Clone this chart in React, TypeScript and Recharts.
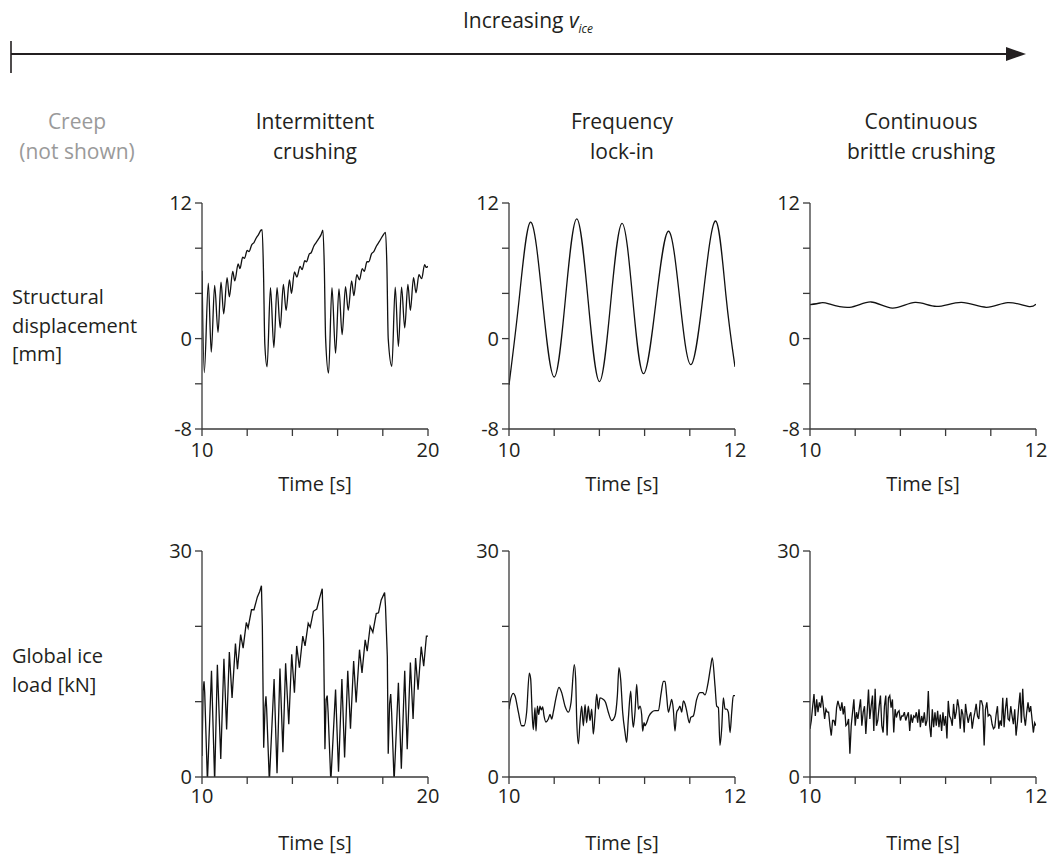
import React from "react";
import { LineChart, Line, XAxis, YAxis } from "recharts";

const FONT = '"Open Sans", "Noto Sans", sans-serif';
const INK = "#231f20";
const AXIS = "#3a3a3a";

// text
const columnTitles = [
  ["Intermittent", "crushing"],
  ["Frequency", "lock-in"],
  ["Continuous", "brittle crushing"],
];
const creepTitle = ["Creep", "(not shown)"];
const rowLabels = [
  ["Structural", "displacement", "[mm]"],
  ["Global ice", "load [kN]"],
];
const timeLabel = "Time [s]";

// axes
const longTicks = [10, 12, 14, 16, 18, 20];
const longLabels = [10, 20];
const shortTicks = [10, 10.4, 10.8, 11.2, 11.6, 12];
const shortLabels = [10, 12];
const dispTicks = [-8, -4, 0, 4, 8, 12];
const dispLabels = [-8, 0, 12];
const loadTicks = [0, 10, 20, 30];
const loadLabels = [0, 30];

// intermittent crushing, displacement [mm]
const icDispT = [
  10.0, 10.1, 10.28, 10.41, 10.56, 10.71, 10.84, 10.96, 11.11, 11.21,
  11.36, 11.45, 11.6, 11.68, 11.8, 11.88, 12.0, 12.08, 12.2, 12.3,
  12.4, 12.5, 12.61, 12.66, 12.72, 12.78, 12.88,
  13.03, 13.18, 13.32, 13.46, 13.6, 13.72, 13.87, 13.96, 14.09, 14.2,
  14.34, 14.43, 14.55, 14.62, 14.75, 14.83, 14.95, 15.05, 15.15, 15.27,
  15.35, 15.41, 15.47, 15.6,
  15.75, 15.91, 16.06, 16.2, 16.35, 16.47, 16.62, 16.72, 16.85, 16.97,
  17.09, 17.18, 17.3, 17.38, 17.5, 17.6, 17.72, 17.85, 17.98, 18.12,
  18.18, 18.24, 18.4,
  18.55, 18.69, 18.83, 18.97, 19.11, 19.22, 19.36, 19.47, 19.6, 19.72,
  19.85, 19.92, 20.0,
];
const icDispV = [
  6.0, -3.0, 4.9, -1.2, 4.7, 0.55, 5.0, 2.2, 5.4, 3.7,
  5.95, 5.1, 6.6, 6.2, 7.2, 7.1, 7.8, 7.7, 8.3, 8.5,
  8.9, 9.2, 9.6, 9.64, 6.0, -0.5, -2.5,
  4.5, -0.8, 4.5, 0.95, 4.8, 2.5, 5.2, 4.0, 5.9, 5.45,
  6.4, 6.1, 6.9, 6.8, 7.5, 7.6, 8.2, 8.5, 8.8, 9.2,
  9.6, 6.5, 0.0, -3.05,
  4.5, -1.3, 4.4, 0.35, 4.6, 2.5, 5.1, 3.8, 5.65, 5.2,
  6.2, 5.95, 6.8, 6.8, 7.5, 7.7, 8.2, 8.6, 9.05, 9.4,
  6.5, 0.0, -2.45,
  4.55, -0.7, 4.55, 0.95, 4.8, 2.5, 5.4, 4.05, 5.65, 5.3,
  6.55, 6.3, 6.4,
];

// intermittent crushing, ice load [kN]
const icLoadT = [
  10.0, 10.05, 10.09, 10.12, 10.24, 10.42, 10.56, 10.68, 10.83, 10.97,
  11.09, 11.21, 11.33, 11.48, 11.57, 11.71, 11.82, 11.96, 12.04, 12.19,
  12.3, 12.45, 12.55, 12.63, 12.67, 12.73, 12.79, 12.83, 12.86, 12.98,
  13.19, 13.32, 13.45, 13.58, 13.7, 13.84, 13.97, 14.09, 14.19, 14.31,
  14.46, 14.56, 14.7, 14.79, 14.93, 15.08, 15.2, 15.32, 15.38, 15.44,
  15.49, 15.54, 15.58, 15.7,
  15.91, 16.04, 16.19, 16.31, 16.45, 16.57, 16.71, 16.82, 16.97, 17.08,
  17.22, 17.31, 17.44, 17.56, 17.71, 17.81, 17.93, 18.08, 18.12, 18.2,
  18.24, 18.3, 18.35, 18.39, 18.5,
  18.69, 18.82, 18.97, 19.08, 19.22, 19.34, 19.45, 19.56, 19.7, 19.81,
  19.93, 20.0,
];
const icLoadV = [
  2.8, 11.5, 12.7, 11.2, -0.6, 14.1, -0.6, 14.9, 2.4, 15.7,
  6.3, 16.6, 10.5, 17.7, 14.3, 18.9, 17.1, 20.5, 19.8, 22.2,
  22.2, 23.9, 24.6, 25.4, 20.0, 3.9, 9.4, 10.7, 9.1, -0.6,
  13.0, 0.5, 14.4, 3.3, 15.1, 7.0, 16.3, 11.2, 17.4, 14.5,
  18.7, 17.4, 20.4, 19.9, 22.0, 22.3, 23.7, 25.0, 18.2, 3.7,
  10.3, 10.8, 8.6, -0.6,
  11.6, 0.7, 13.0, 2.6, 14.1, 6.4, 15.4, 9.9, 16.9, 13.8,
  18.2, 16.7, 20.0, 19.2, 21.7, 21.8, 23.5, 24.5, 22.6, 16.0,
  3.1, 9.7, 11.0, 8.6, -0.6,
  12.5, 1.1, 14.1, 3.7, 15.2, 7.7, 15.8, 11.6, 17.3, 14.7,
  18.7, 18.7,
];

// frequency lock-in, displacement [mm]
const liDispT = [
  10.0, 10.09, 10.19, 10.295, 10.4, 10.5, 10.6, 10.7, 10.8, 10.9,
  11.0, 11.095, 11.19, 11.3, 11.41, 11.51, 11.61, 11.72, 11.83, 11.92,
  12.0,
];
const liDispV = [
  -4.1, 3.5, 10.3, 3.5, -3.4, 3.6, 10.6, 3.4, -3.8, 3.2,
  10.2, 3.5, -3.1, 3.2, 9.5, 3.6, -2.3, 4.0, 10.4, 3.8,
  -2.5,
];

// frequency lock-in, ice load [kN]
const liLoadT = [
  10.0, 10.009, 10.038, 10.053, 10.083, 10.112, 10.133, 10.156, 10.18, 10.192,
  10.206, 10.215, 10.23, 10.239, 10.251, 10.263, 10.274, 10.286, 10.298, 10.31,
  10.327, 10.348, 10.363, 10.378, 10.392, 10.416, 10.442, 10.466, 10.496, 10.525,
  10.549, 10.578, 10.59, 10.599, 10.614, 10.628, 10.643, 10.658, 10.673, 10.687,
  10.702, 10.717, 10.732, 10.746, 10.761, 10.776, 10.791, 10.805, 10.835, 10.855,
  10.879, 10.909, 10.938, 10.959, 10.973, 10.988, 11.006, 11.027, 11.041, 11.056,
  11.077, 11.088, 11.1, 11.115, 11.13, 11.145, 11.159, 11.174, 11.183, 11.195,
  11.204, 11.218, 11.239, 11.263, 11.292, 11.322, 11.345, 11.366, 11.381, 11.395,
  11.41, 11.425, 11.44, 11.454, 11.469, 11.484, 11.499, 11.513, 11.528, 11.543,
  11.558, 11.572, 11.596, 11.608, 11.631, 11.661, 11.69, 11.714, 11.735, 11.764,
  11.785, 11.799, 11.823, 11.838, 11.853, 11.867, 11.882, 11.897, 11.912, 11.926,
  11.941, 11.956, 11.971, 11.985, 12.0,
];
const liLoadV = [
  9.0, 9.9, 11.1, 10.8, 8.6, 6.8, 6.8, 8.6, 13.8, 13.0,
  8.1, 6.3, 9.2, 6.1, 9.4, 8.3, 9.4, 8.9, 9.3, 8.1,
  7.3, 7.7, 8.3, 7.7, 8.6, 10.5, 11.9, 11.2, 9.4, 8.6,
  9.9, 14.9, 13.0, 7.7, 4.4, 7.2, 9.4, 6.8, 9.6, 7.2,
  9.4, 7.5, 9.0, 5.7, 8.1, 11.0, 9.0, 10.5, 10.3, 9.9,
  8.6, 7.5, 8.1, 10.8, 14.5, 13.0, 8.6, 5.9, 4.6, 7.7,
  11.4, 8.6, 6.6, 8.6, 12.3, 9.0, 9.4, 8.3, 6.1, 7.2,
  6.8, 7.2, 8.1, 8.6, 8.8, 8.8, 11.0, 12.7, 12.7, 10.8,
  8.6, 9.4, 10.3, 9.0, 6.1, 8.6, 9.0, 9.4, 8.6, 10.1,
  9.7, 8.8, 7.2, 7.9, 8.1, 10.3, 11.2, 11.2, 10.9, 12.7,
  14.7, 15.8, 12.1, 9.4, 9.2, 4.2, 6.4, 10.5, 9.0, 9.0,
  8.6, 5.9, 8.6, 10.8, 10.8,
];

// continuous brittle crushing, displacement [mm]
const bcDispT = [10.0, 10.09, 10.16, 10.35, 10.54, 10.73, 10.93, 11.12, 11.34, 11.56, 11.75, 11.93, 12.0];
const bcDispV = [3.0, 3.15, 3.1, 2.77, 3.24, 2.7, 3.2, 2.85, 3.2, 2.77, 3.18, 2.85, 3.05];

// continuous brittle crushing, ice load [kN], evenly sampled 10..12 s
const bcLoadV = [
  6.4, 7.5, 9.4, 11.0, 8.1, 10.3, 8.6, 9.9, 9.2, 10.8,
  9.4, 7.7, 9.0, 8.6, 8.6, 6.8, 5.5, 7.5, 7.5, 6.8,
  9.2, 10.1, 9.4, 8.8, 9.9, 8.3, 9.4, 6.8, 7.0, 7.7,
  3.1, 6.8, 8.6, 10.3, 6.8, 8.6, 7.7, 9.0, 10.3, 6.8,
  8.6, 9.4, 5.7, 8.6, 11.6, 7.7, 9.4, 10.8, 6.1, 11.7,
  6.8, 7.5, 9.4, 10.8, 6.8, 5.9, 9.4, 10.8, 5.5, 10.5,
  10.8, 9.2, 10.3, 5.9, 9.0, 7.9, 8.6, 8.8, 7.5, 8.1,
  8.1, 8.6, 7.5, 8.1, 8.6, 6.1, 8.3, 7.2, 8.1, 7.9,
  8.6, 7.2, 9.0, 6.6, 8.1, 7.2, 8.6, 6.8, 7.5, 11.4,
  6.8, 5.3, 9.0, 6.6, 8.6, 6.8, 8.8, 6.6, 8.3, 6.1,
  8.6, 6.8, 8.1, 5.1, 10.1, 8.1, 7.7, 6.8, 9.7, 7.7,
  8.6, 10.3, 9.2, 6.4, 9.0, 8.3, 5.9, 9.7, 8.3, 7.2,
  8.1, 8.6, 6.4, 7.7, 8.6, 9.7, 8.1, 7.7, 10.1, 10.1,
  9.4, 4.2, 9.0, 9.9, 8.1, 8.3, 8.1, 7.0, 6.4, 6.6,
  8.3, 9.4, 6.4, 7.5, 6.8, 10.5, 6.6, 9.0, 10.5, 7.7,
  7.5, 9.4, 8.1, 7.0, 9.0, 5.5, 7.2, 9.4, 11.2, 7.2,
  11.7, 8.1, 6.8, 8.6, 9.9, 8.6, 9.4, 7.7, 5.9, 7.2,
  6.8,
];

type Curve = "monotone" | "linear" | "natural";

const zip = (ts: number[], vs: number[]) => ts.map((t, i) => ({ t, v: vs[i] }));
const bcLoadT = bcLoadV.map((_, i) => 10 + (i * 2) / (bcLoadV.length - 1));

const PLOT = 226;
const TOP_PAD = 22;
const colLeft = [202, 509, 810];
const rowTop = [203, 551];

interface PanelProps {
  left: number;
  top: number;
  data: { t: number; v: number }[];
  xDomain: [number, number];
  xTicks: number[];
  xLabels: number[];
  yDomain: [number, number];
  yTicks: number[];
  yLabels: number[];
  curve: Curve;
  xGap: number;
}

function Panel({ left, top, data, xDomain, xTicks, xLabels, yDomain, yTicks, yLabels, curve, xGap }: PanelProps) {
  const tickStyle = { fill: INK, fontSize: 20, fontFamily: FONT };
  return (
    <div style={{ position: "absolute", left: left - 60, top: top - TOP_PAD }}>
      <LineChart
        width={60 + PLOT + 22}
        height={TOP_PAD + PLOT + 40}
        data={data}
        margin={{ top: TOP_PAD, right: 22, bottom: 0, left: 0 }}
      >
        <XAxis
          dataKey="t"
          type="number"
          domain={xDomain}
          ticks={xTicks}
          interval={0}
          allowDataOverflow
          height={40}
          tickSize={7}
          tickMargin={xGap}
          stroke={AXIS}
          strokeWidth={1.3}
          tick={tickStyle}
          tickFormatter={(v: number) => (xLabels.includes(v) ? String(v) : "")}
        />
        <YAxis
          type="number"
          domain={yDomain}
          ticks={yTicks}
          interval={0}
          allowDataOverflow
          width={60}
          tickSize={7}
          tickMargin={3}
          stroke={AXIS}
          strokeWidth={1.3}
          tick={tickStyle}
          tickFormatter={(v: number) => (yLabels.includes(v) ? String(v) : "")}
        />
        <Line dataKey="v" type={curve} stroke="#111" strokeWidth={1.3} dot={false} isAnimationActive={false} />
      </LineChart>
    </div>
  );
}

const textBlock = (lines: string[], cx: number, top: number, color = INK) => (
  <div
    key={lines[0]}
    style={{
      position: "absolute",
      left: cx - 120,
      top,
      width: 240,
      textAlign: "center",
      fontSize: 21,
      lineHeight: "30px",
      color,
    }}
  >
    {lines.map((l) => (
      <div key={l}>{l}</div>
    ))}
  </div>
);

export default function App() {
  const panels = [
    { data: zip(icDispT, icDispV), col: 0, row: 0, x: [10, 20], xt: longTicks, xl: longLabels, curve: "monotone" },
    { data: zip(liDispT, liDispV), col: 1, row: 0, x: [10, 12], xt: shortTicks, xl: shortLabels, curve: "natural" },
    { data: zip(bcDispT, bcDispV), col: 2, row: 0, x: [10, 12], xt: shortTicks, xl: shortLabels, curve: "natural" },
    { data: zip(icLoadT, icLoadV), col: 0, row: 1, x: [10, 20], xt: longTicks, xl: longLabels, curve: "linear" },
    { data: zip(liLoadT, liLoadV), col: 1, row: 1, x: [10, 12], xt: shortTicks, xl: shortLabels, curve: "monotone" },
    { data: zip(bcLoadT, bcLoadV), col: 2, row: 1, x: [10, 12], xt: shortTicks, xl: shortLabels, curve: "linear" },
  ];

  return (
    <div
      style={{
        position: "absolute",
        left: 0,
        top: 0,
        width: 1053,
        height: 856,
        background: "#fff",
        fontFamily: FONT,
        color: INK,
      }}
    >
      {/* header arrow */}
      <div style={{ position: "absolute", left: 463, top: 5, fontSize: 21, lineHeight: "30px", whiteSpace: "nowrap" }}>
        Increasing <i>v</i>
        <sub style={{ fontSize: 12, fontStyle: "italic", verticalAlign: "-5px" }}>ice</sub>
      </div>
      <svg width={1053} height={90} style={{ position: "absolute", left: 0, top: 0 }}>
        <line x1={11} y1={54} x2={1010} y2={54} stroke={INK} strokeWidth={2} />
        <line x1={11} y1={41} x2={11} y2={73} stroke={INK} strokeWidth={1.6} />
        <polygon points="1026,54 1006,47 1006,61" fill={INK} />
      </svg>

      {textBlock(creepTitle, 77, 106, "#9a9a9a")}
      {columnTitles.map((t, i) => textBlock(t, [315, 622, 921][i], 106))}

      {rowLabels.map((lines, r) => (
        <div
          key={r}
          style={{ position: "absolute", left: 12, top: r === 0 ? 283 : 642, fontSize: 20, lineHeight: "28.5px" }}
        >
          {lines.map((l) => (
            <div key={l}>{l}</div>
          ))}
        </div>
      ))}

      {panels.map((p, i) => (
        <Panel
          key={i}
          left={colLeft[p.col]}
          top={rowTop[p.row]}
          data={p.data}
          xDomain={p.x as [number, number]}
          xTicks={p.xt}
          xLabels={p.xl}
          yDomain={p.row === 0 ? [-8, 12] : [0, 30]}
          yTicks={p.row === 0 ? dispTicks : loadTicks}
          yLabels={p.row === 0 ? dispLabels : loadLabels}
          curve={p.curve as Curve}
          xGap={p.row === 0 ? 7 : 5}
        />
      ))}

      {[0, 1].map((r) =>
        colLeft.map((l, c) => (
          <div
            key={`${r}-${c}`}
            style={{
              position: "absolute",
              left: l,
              width: PLOT,
              top: r === 0 ? 470 : 829,
              textAlign: "center",
              fontSize: 20,
              lineHeight: "28px",
            }}
          >
            {timeLabel}
          </div>
        ))
      )}
    </div>
  );
}
